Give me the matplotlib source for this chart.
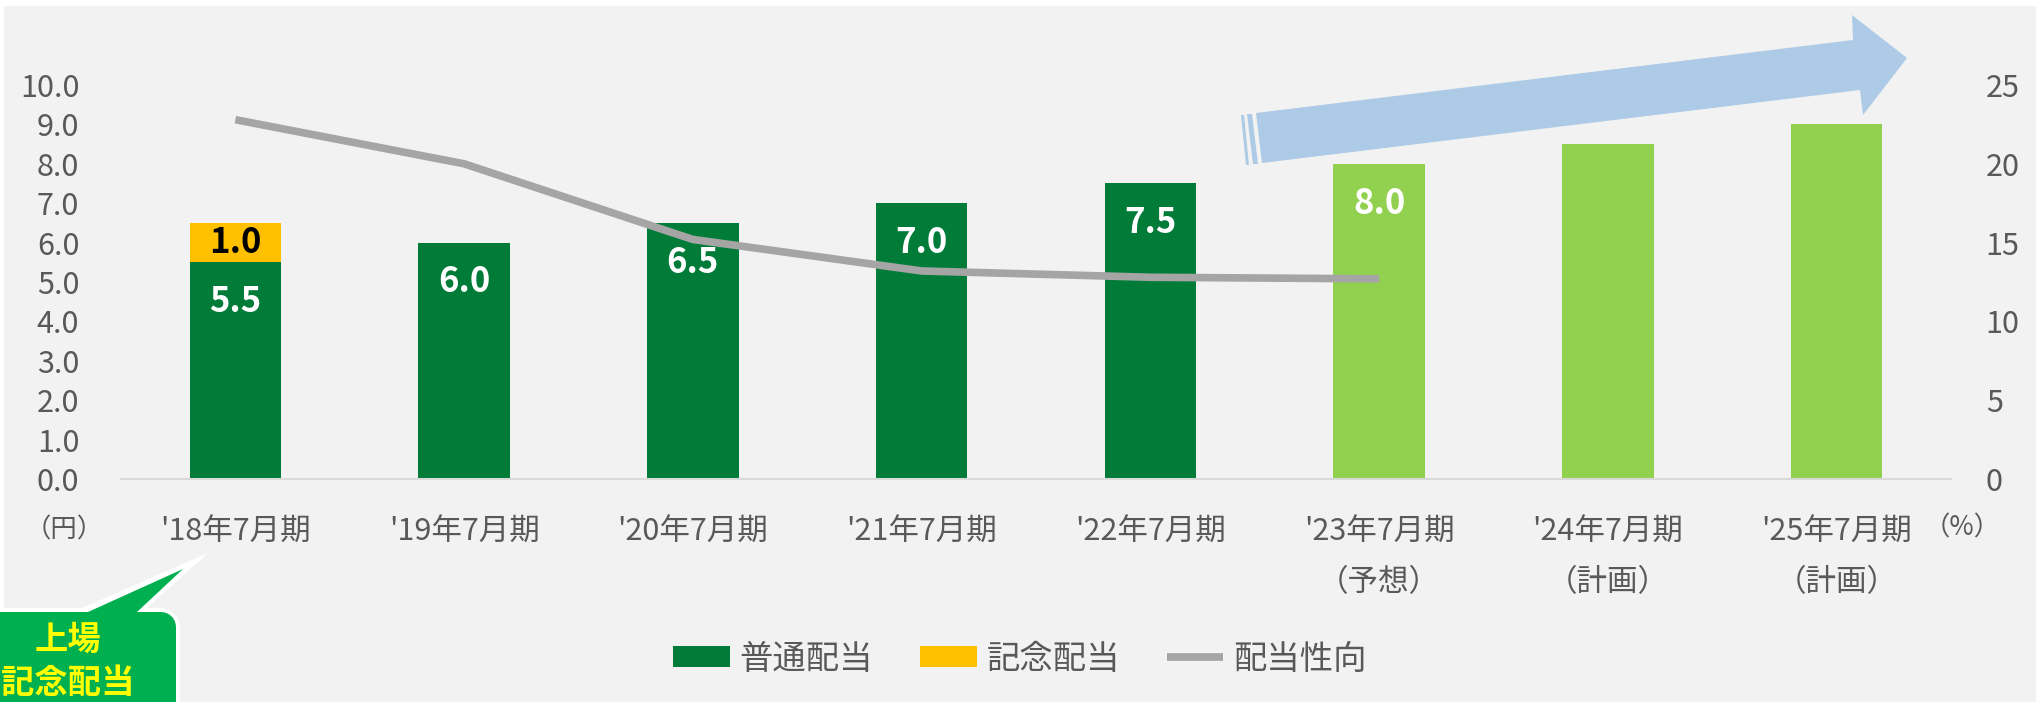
import matplotlib.pyplot as plt
import numpy as np
from matplotlib.patches import Polygon, Rectangle

plt.rcParams['font.family'] = ['Noto Sans CJK JP', 'DejaVu Sans']

periods = ["'18年7月期", "'19年7月期", "'20年7月期", "'21年7月期",
           "'22年7月期", "'23年7月期", "'24年7月期", "'25年7月期"]
notes = ["", "", "", "", "", "（予想）", "（計画）", "（計画）"]
ordinary = [5.5, 6.0, 6.5, 7.0, 7.5, 8.0, 8.5, 9.0]
commemorative = [1.0, 0, 0, 0, 0, 0, 0, 0]
payout_ratio = [22.8, 20.0, 15.2, 13.2, 12.8, 12.7]
show_label = [True, True, True, True, True, True, False, False]
n_actual = 5  # periods with actual results, the rest are forecast / plan

DARK = '#007B38'
LIGHT = '#92D050'
YELLOW = '#FFC000'
GRAY = '#A5A5A5'
TEXT = '#595959'

W, H = 2036, 702


def fig_xy(pts):
    # pixel coords (from top-left) -> figure fraction
    return [(x / W, 1 - y / H) for x, y in pts]


fig = plt.figure(figsize=(W / 100, H / 100), dpi=100, facecolor='white')
fig.patches.append(Rectangle((4 / W, 0), 1, 1 - 6 / H, transform=fig.transFigure,
                             facecolor='#F2F2F2', edgecolor='none', zorder=-10))

ax = fig.add_axes([121 / W, 1 - 479 / H, (1951 - 121) / W, (479 - 85) / H])
ax.set_facecolor('none')

x = np.arange(len(periods))
colors = [DARK if i < n_actual else LIGHT for i in x]
bars_ord = ax.bar(x, ordinary, 0.4, color=colors, label='普通配当', zorder=2)
bars_com = ax.bar(x, commemorative, 0.4, bottom=ordinary, color=YELLOW, label='記念配当', zorder=2)

for i, v in enumerate(ordinary):
    if show_label[i]:
        ax.text(i, v - 1.0, f'{v:.1f}', ha='center', va='center', color='white',
                fontsize=25, fontweight='bold', zorder=3)
for i, c in enumerate(commemorative):
    if c:
        ax.text(i, ordinary[i] + c / 2, f'{c:.1f}', ha='center', va='center', color='black',
                fontsize=25, fontweight='bold', zorder=3)

ax.set_xlim(-0.5, len(periods) - 0.5)
ax.set_ylim(0, 10)
ax.set_yticks(np.arange(0, 11))
ax.set_yticklabels([f'{v:.1f}' for v in range(11)])
ax.set_xticks(x)
ax.set_xticklabels([f'{p}\n{n}' if n else p for p, n in zip(periods, notes)])
for lbl in ax.get_xticklabels():
    lbl.set_linespacing(1.8)
ax.tick_params(axis='both', length=0, labelsize=22, colors=TEXT)
ax.tick_params(axis='y', pad=30)
ax.tick_params(axis='x', pad=27)
for s in ['left', 'right', 'top']:
    ax.spines[s].set_visible(False)
ax.spines['bottom'].set_color('#D9D9D9')
ax.spines['bottom'].set_linewidth(1.5)

ax2 = ax.twinx()
line, = ax2.plot(x[:len(payout_ratio)], payout_ratio, color=GRAY, lw=5.5,
                 solid_capstyle='butt', label='配当性向', zorder=4)
ax2.set_ylim(0, 25)
ax2.set_yticks(np.arange(0, 26, 5))
ax2.tick_params(axis='y', length=0, labelsize=22, colors=TEXT, pad=25)
for s in ax2.spines.values():
    s.set_visible(False)

fig.legend([bars_ord, bars_com, line], ['普通配当', '記念配当', '配当性向'],
           loc='center', bbox_to_anchor=(1020 / W, 1 - 659 / H), ncol=3, frameon=False,
           fontsize=24, handlelength=1.7, handleheight=0.6, handletextpad=0.3,
           columnspacing=1.4, labelcolor=TEXT)

fig.text(64 / W, 1 - 530 / H, '（円）', ha='center', va='center', fontsize=19, color=TEXT)
fig.text(1962 / W, 1 - 528 / H, '（%）', ha='center', va='center', fontsize=19, color=TEXT)

# growth arrow (striped right arrow)
arrow_blue = '#ADCBE6'
body = [(1256, 113), (1853, 40), (1852, 15), (1907, 58), (1863, 115), (1860, 90), (1262, 163)]
stripe1 = [(1241, 115), (1244, 115), (1249, 165), (1246, 165)]
stripe2 = [(1247, 114), (1252, 114), (1258, 164), (1253, 164)]
for pts in (body, stripe1, stripe2):
    fig.patches.append(Polygon(fig_xy(pts), closed=True, transform=fig.transFigure,
                               facecolor=arrow_blue, edgecolor='none', zorder=5))

# callout: white outline shape underneath, green shape on top
ang = np.linspace(np.pi / 2, 0, 8)
outline = ([(-10, 712), (-10, 608), (82, 608), (208, 553), (147, 608)]
           + [(160 + 20 * np.cos(a), 628 - 20 * np.sin(a)) for a in ang] + [(180, 712)])
green = ([(-10, 712), (-10, 612), (88, 612), (183, 569), (137, 612)]
         + [(161 + 15 * np.cos(a), 627 - 15 * np.sin(a)) for a in ang] + [(176, 712)])
fig.patches.append(Polygon(fig_xy(outline), closed=True, transform=fig.transFigure,
                           facecolor='white', edgecolor='none', zorder=5))
fig.patches.append(Polygon(fig_xy(green), closed=True, transform=fig.transFigure,
                           facecolor='#00B050', edgecolor='none', zorder=5.5))
fig.text(68 / W, 1 - 640 / H, '上場', ha='center', va='center', fontsize=24,
         fontweight='bold', color='#FFFF00', zorder=6)
fig.text(68 / W, 1 - 683 / H, '記念配当', ha='center', va='center', fontsize=24,
         fontweight='bold', color='#FFFF00', zorder=6)

fig.savefig('out.png', dpi=100, facecolor=fig.get_facecolor())
